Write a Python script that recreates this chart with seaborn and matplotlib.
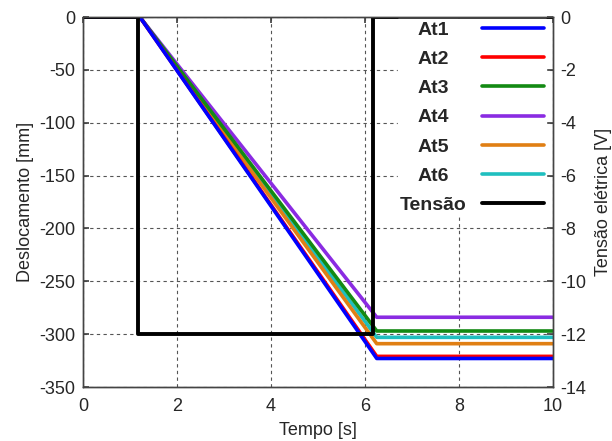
import matplotlib
matplotlib.use("Agg")
import matplotlib.pyplot as plt
from matplotlib.offsetbox import DrawingArea
import seaborn as sns
import pandas as pd

sns.set_theme(style="white")
plt.rcParams['font.family'] = ['Liberation Sans', 'DejaVu Sans']
plt.rcParams['axes.unicode_minus'] = False

# Data
series_names = ["At1", "At2", "At3", "At4", "At5", "At6"]
colors = ["#0000ff", "#ff0000", "#138a13", "#8a2be2", "#e07f14", "#1fbfbf"]
t_points = [0.0, 1.21, 6.25, 10.0]
final_disp = [-323, -321, -297, -284, -309, -303]  # mm
tensao_t = [0.0, 1.17, 1.17, 6.18, 6.18, 10.0]
tensao_v = [0.0, 0.0, -12.0, -12.0, 0.0, 0.0]

rows = []
for name, fv in zip(series_names, final_disp):
    for t, v in zip(t_points, [0.0, 0.0, fv, fv]):
        rows.append({"Tempo": t, "Desloc": v, "Atuador": name})
df = pd.DataFrame(rows)
df_t = pd.DataFrame({"Tempo": tensao_t, "Tensao": tensao_v})

fig = plt.figure(figsize=(6.12, 4.41), dpi=100)
ax = fig.add_axes([0.1356, 0.1224, 0.768, 0.839])

spine_c = "#444444"

for name, c in reversed(list(zip(series_names, colors))):
    sns.lineplot(data=df[df["Atuador"] == name], x="Tempo", y="Desloc", color=c,
                 lw=2.6, ax=ax, label=name, sort=False, estimator=None)

ax.set_xlim(0, 10)
ax.set_ylim(-350, 0)
ax.set_xticks(range(0, 11, 2))
ax.set_yticks(range(-350, 1, 50))
ax.grid(True, linestyle=(0, (3, 3)), color="#555555", lw=0.8)
ax.set_xlabel("Tempo [s]", fontsize=13, labelpad=5)
ax.set_ylabel("Deslocamento [mm]", fontsize=13, labelpad=4)
ax.tick_params(direction="in", labelsize=13, length=4, top=True, color=spine_c)
ax.tick_params(axis="x", pad=8)
ax.tick_params(axis="y", pad=5.5)
for s in ax.spines.values():
    s.set_color(spine_c)
    s.set_linewidth(1.0)

ax2 = ax.twinx()
sns.lineplot(data=df_t, x="Tempo", y="Tensao", color="black", lw=2.8, ax=ax2,
             label="Tensão", sort=False, estimator=None)
ax2.set_ylim(-14, 0)
ax2.set_yticks(range(-14, 1, 2))
ax2.set_ylabel("Tensão elétrica [V]", fontsize=13, labelpad=6)
ax2.tick_params(direction="in", labelsize=13, length=4, color=spine_c, pad=5.5)
ax2.set_xlim(0, 10)
for s in ax2.spines.values():
    s.set_color(spine_c)
    s.set_linewidth(1.0)

if ax.get_legend():
    ax.get_legend().remove()
if ax2.get_legend():
    ax2.get_legend().remove()
h1, l1 = ax.get_legend_handles_labels()
h2, l2 = ax2.get_legend_handles_labels()
order = [l1.index(n) for n in series_names]
handles = [h1[i] for i in order] + h2
labels = [l1[i] for i in order] + l2
leg = ax2.legend(handles, labels, loc="upper right", bbox_to_anchor=(0.99, 1.0),
                 markerfirst=False, frameon=True, fancybox=False, framealpha=1,
                 edgecolor="white", prop={"weight": "bold", "size": 14},
                 labelspacing=0.6, handlelength=3.2, handletextpad=0.4,
                 borderpad=0.1, borderaxespad=0.1)

# center label texts within their column
try:
    fig.canvas.draw()
    renderer = fig.canvas.get_renderer()
    texts = leg.get_texts()
    widths = [t.get_window_extent(renderer).width for t in texts]
    W = max(widths)
    col = leg._legend_handle_box.get_children()[0]
    for item, w in zip(col.get_children(), widths):
        kids = list(item.get_children())
        spacer = DrawingArea((W - w) / 2 * 72 / fig.dpi, 0.0)
        item._children = [kids[0], spacer, kids[1]]
except Exception:
    pass

fig.savefig("out.png", dpi=100)
